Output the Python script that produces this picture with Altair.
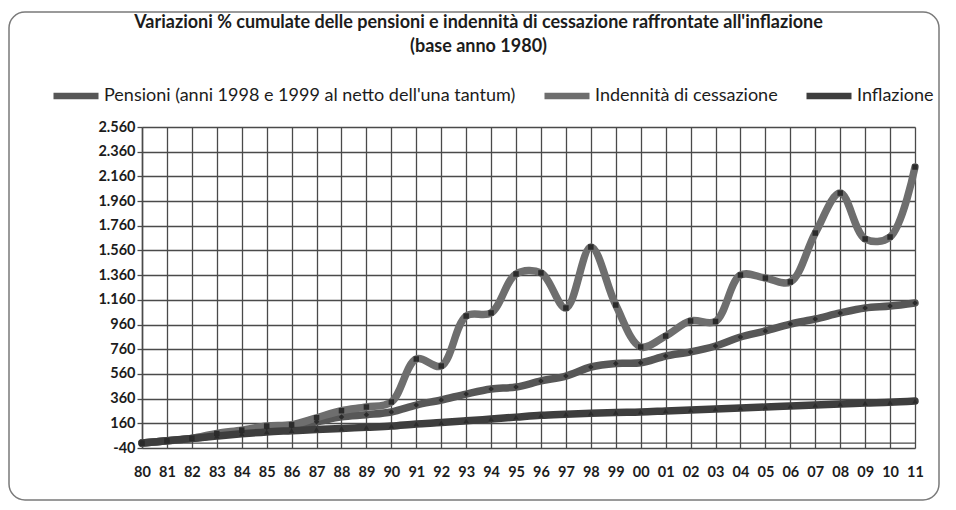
import altair as alt
import pandas as pd

years = ["80", "81", "82", "83", "84", "85", "86", "87", "88", "89", "90", "91", "92", "93", "94", "95",
         "96", "97", "98", "99", "00", "01", "02", "03", "04", "05", "06", "07", "08", "09", "10", "11"]
pensioni = [0, 18, 38, 65, 90, 125, 138, 172, 212, 230, 252, 308, 349, 397, 438, 454,
            503, 543, 616, 645, 650, 705, 738, 786, 859, 908, 964, 1005, 1054, 1094, 1110, 1135]
indennita = [0, 18, 38, 78, 105, 138, 148, 205, 262, 292, 333, 681, 624, 1029, 1054, 1370,
             1378, 1094, 1588, 1118, 778, 867, 989, 985, 1361, 1337, 1305, 1701, 2025, 1653, 1669, 2236]
inflazione = [0, 18, 37, 57, 75, 90, 100, 110, 118, 128, 138, 155, 166, 180, 195, 210,
              225, 234, 242, 248, 252, 260, 268, 276, 284, 292, 300, 308, 316, 324, 330, 340]

series_names = ["Pensioni (anni 1998 e 1999 al netto dell'una tantum)",
                "Indennità di cessazione", "Inflazione"]
series_colors = ["#575757", "#6e6e6e", "#3e3e3e"]
series_shapes = ["diamond", "square", "triangle-up"]
y_ticks = [-40, 160, 360, 560, 760, 960, 1160, 1360, 1560, 1760, 1960, 2160, 2360, 2560]

rows = []
for name, vals in zip(series_names, [pensioni, indennita, inflazione]):
    for yr, v in zip(years, vals):
        rows.append({"anno": yr, "valore": v, "serie": name})
df = pd.DataFrame(rows)

FONT = "Lato"

x_axis = alt.Axis(title=None, labelAngle=0, domain=False, ticks=False,
                  labelPadding=17, labelFontSize=14.5, labelFont=FONT,
                  labelFontWeight="bold", labelColor="#1c1c1c",
                  grid=True, gridColor="#4a4a4a", gridWidth=1.3)
y_axis = alt.Axis(title=None, values=y_ticks, labelOverlap=False,
                  labelExpr="replace(replace(datum.label, ',', '.'), '\u2212', '-')",
                  labelFontSize=14.5, labelFont=FONT, labelFontWeight="bold",
                  labelColor="#1c1c1c", labelPadding=2,
                  tickSize=5, tickColor="#4a4a4a", tickWidth=1.3,
                  domain=True, domainColor="#4a4a4a", domainWidth=1.5,
                  grid=True, gridColor="#4a4a4a", gridWidth=1.3)
x_scale = alt.Scale(type="point", padding=0)
y_scale = alt.Scale(domain=[-40, 2560], nice=False, zero=False)

x_enc = alt.X("anno:O", sort=years, scale=x_scale, axis=x_axis)
y_enc = alt.Y("valore:Q", scale=y_scale, axis=y_axis)

base = alt.Chart(df)

lines = base.mark_line(strokeWidth=7.5, interpolate="catmull-rom", strokeCap="round").encode(
    x=x_enc, y=y_enc,
    color=alt.Color("serie:N",
                    scale=alt.Scale(domain=series_names, range=series_colors),
                    legend=alt.Legend(title=None, orient="none", legendX=-92, legendY=-57,
                                      direction="horizontal", symbolType="stroke",
                                      symbolStrokeWidth=6.5, symbolSize=2025,
                                      labelFont=FONT, labelFontSize=18, labelColor="#1c1c1c",
                                      labelLimit=0, labelOffset=2, columnPadding=15)),
    detail="serie:N",
)

points = base.mark_point(filled=True, size=30, opacity=1, color="#2b2b2b").encode(
    x=x_enc, y=y_enc,
    shape=alt.Shape("serie:N", scale=alt.Scale(domain=series_names, range=series_shapes),
                    legend=None),
)

zero_rule = alt.Chart(pd.DataFrame({"valore": [0]})).mark_rule(color="#4a4a4a", strokeWidth=1.3).encode(
    y=y_enc
)

frame = alt.Chart(pd.DataFrame({"f": [0]})).mark_rect(
    fill="transparent", stroke="#7a7a7a", strokeWidth=1.5, cornerRadius=16
).encode(
    x=alt.value(-133), x2=alt.value(797), y=alt.value(-115), y2=alt.value(373)
)

chart = alt.layer(frame, zero_rule, lines, points).properties(
    width=773, height=321,
    autosize=alt.AutoSizeParams(type="none"),
    padding={"left": 134, "top": 119, "right": 33, "bottom": 54},
    title=alt.TitleParams(
        text=["Variazioni % cumulate delle pensioni e indennità di cessazione raffrontate all'inflazione",
              "(base anno 1980)"],
        font=FONT, fontSize=18, fontWeight="bold", color="#1c1c1c",
        anchor="middle", dx=-50, offset=-45, lineHeight=24,
    ),
).resolve_scale(color="independent").configure_view(stroke=None).configure(
    background="white"
).configure_axis(labelOverlap=False)

chart.save("out.html", embed_options={"renderer": "svg", "actions": False})
